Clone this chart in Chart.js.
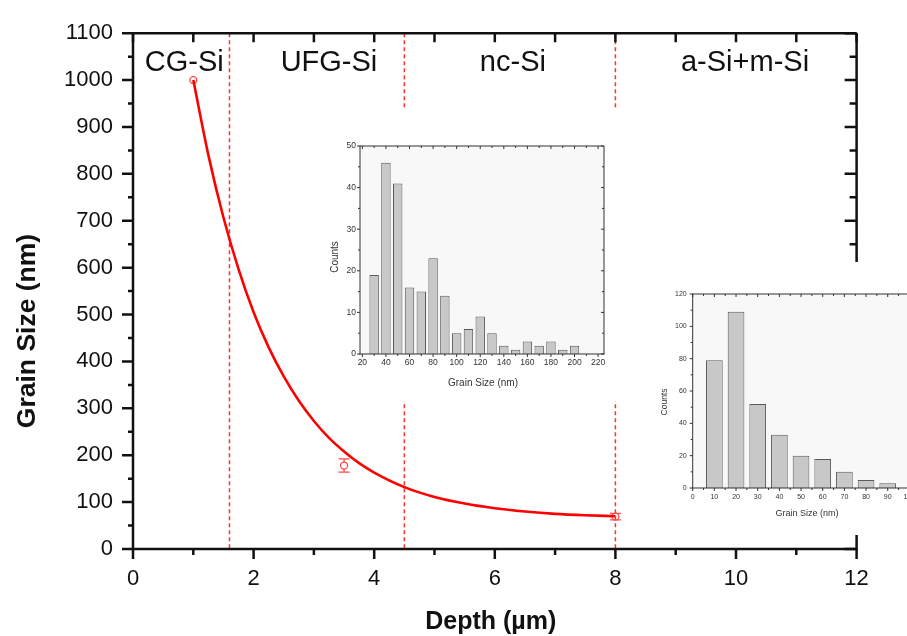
<!DOCTYPE html>
<html><head><meta charset="utf-8">
<script src="https://cdn.jsdelivr.net/npm/chart.js@4.4.1/dist/chart.umd.min.js"></script>
<style>
html,body{margin:0;padding:0;background:#fff;overflow:hidden;width:907px;height:636px;}
#wrap{position:relative;width:907px;height:636px;overflow:hidden;}
canvas{position:absolute;display:block;}
#main{left:0;top:0;}
#in1{left:318px;top:110px;background:#fff;}
#in2{left:652px;top:262px;background:#fff;}
</style></head><body>
<div id="wrap">
<canvas id="main" width="907" height="636"></canvas>
<canvas id="in1" width="302" height="291"></canvas>
<canvas id="in2" width="280" height="273"></canvas>
</div>
<script>
// ---- data ----
const fitDepth = [1, 1.25, 1.5, 1.75, 2, 2.25, 2.5, 2.75, 3, 3.25, 3.5, 3.75, 4, 4.5, 5, 5.5, 6, 6.5, 7, 7.5, 8];
const fitGrain = [1000, 840, 707, 597, 505, 430, 368, 316, 273, 237, 208, 183, 163, 132, 111, 97, 87, 80, 75, 72, 70];
const measDepth = [1, 3.5, 8];
const measGrain = [1000, 178, 69];
const measError = [0, 14, 7];
const regionBounds = [1.6, 4.5, 8];
const regionNames = ['CG-Si', 'UFG-Si', 'nc-Si', 'a-Si+m-Si'];
const xTitle = 'Depth (µm)';
const yTitle = 'Grain Size (nm)';

const hist1Size = [30, 40, 50, 60, 70, 80, 90, 100, 110, 120, 130, 140, 150, 160, 170, 180, 190, 200];
const hist1Count = [19, 46, 41, 16, 15, 23, 14, 5, 6, 9, 5, 2, 1, 3, 2, 3, 1, 2];
const hist1XTicks = [20, 40, 60, 80, 100, 120, 140, 160, 180, 200, 220];
const hist2Size = [10, 20, 30, 40, 50, 60, 70, 80, 90];
const hist2Count = [79, 109, 52, 33, 20, 18, 10, 5, 3];
const hist2XTicks = [0, 10, 20, 30, 40, 50, 60, 70, 80, 90, 100];
const histXTitle = 'Grain Size (nm)';
const histYTitle = 'Counts';

const FONT = "'Liberation Sans', Arial, Helvetica, sans-serif";

// ---- plugins ----
function drawFrame(chart, o) {
  const {ctx, chartArea: a, scales: {x, y}} = chart;
  ctx.save();
  if (o.fill) {
    ctx.fillStyle = o.fill;
    ctx.fillRect(a.left, a.top, a.right - a.left, a.bottom - a.top);
  }
  ctx.restore();
}
function drawFrameLines(chart, o) {
  const {ctx, chartArea: a, scales: {x, y}} = chart;
  ctx.save();
  ctx.strokeStyle = o.color;
  ctx.lineWidth = o.lineWidth;
  ctx.lineCap = 'butt';
  ctx.beginPath();
  ctx.moveTo(a.left, a.top); ctx.lineTo(a.right, a.top);
  ctx.moveTo(a.right, a.top); ctx.lineTo(a.right, a.bottom);
  ctx.moveTo(a.left - o.lineWidth / 2, a.bottom); ctx.lineTo(a.right + o.lineWidth / 2, a.bottom);
  ctx.moveTo(a.left, a.top - o.lineWidth / 2); ctx.lineTo(a.left, a.bottom + o.lineWidth / 2);
  ctx.stroke();
  for (const side of ['bottom', 'top', 'left', 'right']) {
    const s = o.sides[side];
    if (!s) continue;
    const sc = (side === 'bottom' || side === 'top') ? x : y;
    const start = Math.ceil(sc.min / s.step - 1e-9) * s.step;
    ctx.lineWidth = s.width || o.lineWidth;
    ctx.beginPath();
    for (let k = 0; ; k++) {
      const v = Math.round((start + k * s.step) * 1e6) / 1e6;
      if (v > sc.max + 1e-9) break;
      const p = sc.getPixelForValue(v);
      const major = Math.abs(v / s.majorEvery - Math.round(v / s.majorEvery)) < 1e-6;
      const len = major ? s.major : s.minor;
      const d = s.dir === 'out' ? 1 : -1;
      if (side === 'bottom') { ctx.moveTo(p, a.bottom); ctx.lineTo(p, a.bottom + d * len); }
      if (side === 'top') { ctx.moveTo(p, a.top); ctx.lineTo(p, a.top - d * len); }
      if (side === 'left') { ctx.moveTo(a.left, p); ctx.lineTo(a.left - d * len, p); }
      if (side === 'right') { ctx.moveTo(a.right, p); ctx.lineTo(a.right + d * len, p); }
    }
    ctx.stroke();
  }
  ctx.restore();
}

const framePlugin = {
  id: 'frame',
  beforeDatasetsDraw(chart, args, opts) { drawFrame(chart, opts); },
  afterDatasetsDraw(chart, args, opts) { drawFrameLines(chart, opts); }
};

const textPlugin = {
  id: 'texts',
  afterDraw(chart, args, opts) {
    const {ctx} = chart;
    ctx.save();
    for (const t of opts.items) {
      ctx.font = t.font;
      ctx.fillStyle = t.color || '#111';
      ctx.textAlign = 'center';
      ctx.textBaseline = t.baseline || 'middle';
      const px = typeof t.x === 'function' ? t.x(chart) : t.x;
      const py = typeof t.y === 'function' ? t.y(chart) : t.y;
      ctx.save();
      ctx.translate(px, py);
      if (t.rot) ctx.rotate(t.rot);
      ctx.fillText(t.text, 0, 0);
      ctx.restore();
    }
    ctx.restore();
  }
};

const boundaryPlugin = {
  id: 'bounds',
  beforeDatasetsDraw(chart) {
    const {ctx, chartArea: a, scales: {x}} = chart;
    ctx.save();
    ctx.strokeStyle = '#ff3030';
    ctx.lineWidth = 1.5;
    ctx.setLineDash([4, 3]);
    for (const b of regionBounds) {
      const p = x.getPixelForValue(b);
      ctx.beginPath();
      ctx.moveTo(p, a.top);
      ctx.lineTo(p, a.bottom);
      ctx.stroke();
    }
    ctx.restore();
  }
};

const errorPlugin = {
  id: 'errbars',
  afterDatasetsDraw(chart) {
    const {ctx, scales: {x, y}} = chart;
    ctx.save();
    ctx.strokeStyle = '#ff4a4a';
    ctx.lineWidth = 1.3;
    measDepth.forEach((d, i) => {
      if (!measError[i]) return;
      const px = x.getPixelForValue(d);
      const y1 = y.getPixelForValue(measGrain[i] + measError[i]);
      const y2 = y.getPixelForValue(measGrain[i] - measError[i]);
      const yc = y.getPixelForValue(measGrain[i]);
      ctx.beginPath();
      ctx.moveTo(px, y1); ctx.lineTo(px, yc - 3.5);
      ctx.moveTo(px, yc + 3.5); ctx.lineTo(px, y2);
      ctx.moveTo(px - 5.5, y1); ctx.lineTo(px + 5.5, y1);
      ctx.moveTo(px - 5.5, y2); ctx.lineTo(px + 5.5, y2);
      ctx.stroke();
    });
    ctx.restore();
  }
};

// ---- main chart ----
const regionLabelX = [0.85, 3.25, 6.3, 10.15];
new Chart(document.getElementById('main'), {
  type: 'scatter',
  data: {
    datasets: [
      {
        type: 'line',
        data: fitDepth.map((d, i) => ({x: d, y: fitGrain[i]})),
        borderColor: '#ff0000',
        borderWidth: 2.6,
        pointRadius: 0,
        cubicInterpolationMode: 'monotone',
        fill: false
      },
      {
        type: 'scatter',
        data: measDepth.map((d, i) => ({x: d, y: measGrain[i]})),
        borderColor: '#ff4a4a',
        backgroundColor: 'rgba(255,255,255,0)',
        borderWidth: 1.3,
        pointRadius: 3.5,
        pointStyle: 'circle'
      }
    ]
  },
  options: {
    responsive: false,
    animation: false,
    devicePixelRatio: 1,
    layout: {padding: {left: 0, top: 24, right: 50.4, bottom: 0}},
    plugins: {
      legend: {display: false},
      tooltip: {enabled: false},
      frame: {
        color: '#111', lineWidth: 2.5,
        sides: {
          bottom: {step: 1, majorEvery: 2, dir: 'out', major: 10, minor: 6},
          top: {step: 1, majorEvery: 1, dir: 'in', major: 9, minor: 9},
          left: {step: 50, majorEvery: 100, dir: 'out', major: 11, minor: 5},
          right: {step: 50, majorEvery: 100, dir: 'in', major: 12, minor: 7}
        }
      },
      texts: {
        items: [
          ...regionNames.map((n, i) => ({
            text: n, font: '29px ' + FONT, baseline: 'alphabetic',
            x: c => c.scales.x.getPixelForValue(regionLabelX[i]),
            y: c => c.scales.y.getPixelForValue(1020)
          })),
          {text: xTitle, font: 'bold 25px ' + FONT, x: c => (c.chartArea.left + c.chartArea.right) / 2 - 4, y: 622},
          {text: yTitle, font: 'bold 26.5px ' + FONT, x: 28, y: 331, rot: -Math.PI / 2}
        ]
      }
    },
    scales: {
      x: {
        type: 'linear', min: 0, max: 12,
        ticks: {stepSize: 2, padding: 17, color: '#111', font: {family: FONT, size: 22}, callback: v => String(v)},
        grid: {display: false, drawTicks: false},
        border: {display: false},
        afterFit: s => { s.height = 87; }
      },
      y: {
        type: 'linear', min: 0, max: 1100,
        ticks: {stepSize: 100, padding: 20, color: '#111', font: {family: FONT, size: 22}, callback: v => String(v)},
        grid: {display: false, drawTicks: false},
        border: {display: false},
        afterFit: s => { s.width = 133; }
      }
    }
  },
  plugins: [boundaryPlugin, framePlugin, errorPlugin, textPlugin]
});

// ---- insets ----
function insetChart(id, sizes, counts, xTicks, o) {
  return new Chart(document.getElementById(id), {
    type: 'bar',
    data: {
      datasets: [{
        data: sizes.map((s, i) => ({x: s, y: counts[i]})),
        backgroundColor: '#c8c8c8',
        borderColor: '#5a5a5a',
        borderWidth: 1,
        barPercentage: o.barPct,
        categoryPercentage: 1
      }]
    },
    options: {
      responsive: false,
      animation: false,
      devicePixelRatio: 1,
      layout: {padding: o.pad},
      plugins: {
        legend: {display: false},
        tooltip: {enabled: false},
        frame: {color: '#333', lineWidth: 1, fill: '#f8f8f8', sides: o.sides},
        texts: {items: o.texts}
      },
      scales: {
        x: {
          type: 'linear', min: o.xmin, max: o.xmax, offset: false,
          ticks: {padding: o.xpad, color: '#333', font: {family: FONT, size: o.tick}, maxRotation: 0, autoSkip: false, callback: v => String(v)},
          afterBuildTicks: s => { s.ticks = xTicks.map(v => ({value: v})); },
          grid: {display: false, drawTicks: false},
          border: {display: false},
          afterFit: s => { s.height = o.xh; }
        },
        y: {
          type: 'linear', min: 0, max: o.ymax,
          ticks: {stepSize: o.ystep, padding: o.ypad, color: '#333', font: {family: FONT, size: o.tick}},
          grid: {display: false, drawTicks: false},
          border: {display: false},
          afterFit: s => { s.width = o.yw; }
        }
      }
    },
    plugins: [framePlugin, textPlugin]
  });
}

insetChart('in1', hist1Size, hist1Count, hist1XTicks, {
  barPct: 0.8, xmin: 18, xmax: 225, ymax: 50, ystep: 10,
  pad: {left: 0, top: 36, right: 16, bottom: 0}, xh: 47, yw: 42, xpad: 4, ypad: 4, tick: 8.5,
  sides: {
    bottom: {step: 10, majorEvery: 20, dir: 'out', major: 3, minor: 2},
    top: {step: 10, majorEvery: 20, dir: 'in', major: 3, minor: 2},
    left: {step: 5, majorEvery: 10, dir: 'out', major: 3, minor: 2},
    right: {step: 5, majorEvery: 10, dir: 'in', major: 3, minor: 2}
  },
  texts: [
    {text: histXTitle, font: '10px ' + FONT, color: '#333', x: 165, y: 273},
    {text: histYTitle, font: '10px ' + FONT, color: '#333', x: 17, y: 147, rot: -Math.PI / 2}
  ]
});

insetChart('in2', hist2Size, hist2Count, hist2XTicks, {
  barPct: 0.77, xmin: 0, xmax: 100, ymax: 120, ystep: 20,
  pad: {left: 0, top: 32, right: 22.6, bottom: 0}, xh: 47, yw: 40.7, xpad: 5, ypad: 6, tick: 7,
  sides: {
    bottom: {step: 5, majorEvery: 10, dir: 'out', major: 3, minor: 2},
    top: {step: 5, majorEvery: 10, dir: 'in', major: 3, minor: 2},
    left: {step: 10, majorEvery: 20, dir: 'out', major: 3, minor: 2}
  },
  texts: [
    {text: histXTitle, font: '9px ' + FONT, color: '#333', x: 155, y: 252},
    {text: histYTitle, font: '8.5px ' + FONT, color: '#333', x: 13, y: 140, rot: -Math.PI / 2}
  ]
});
</script>
</body></html>
